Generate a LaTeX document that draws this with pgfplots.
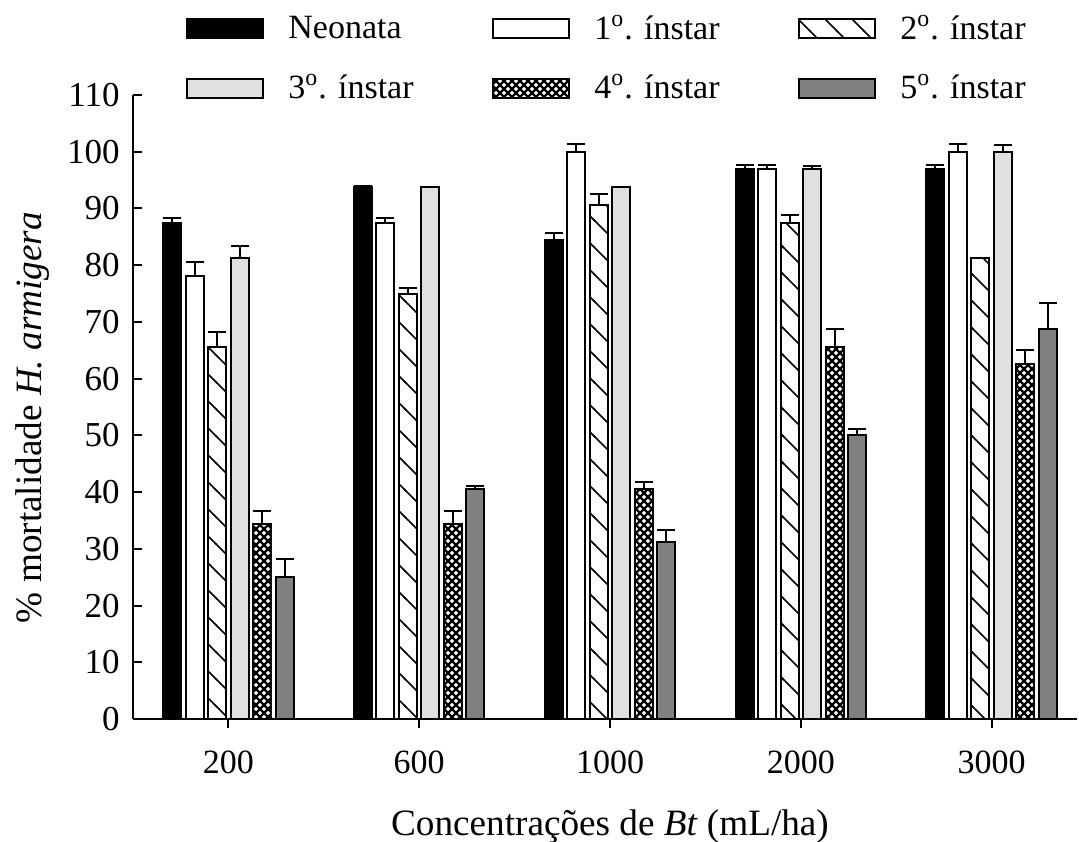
\documentclass[border=0pt]{standalone}
\usepackage{fontspec}
\setmainfont{Liberation Serif}
\usepackage{pgfplots}
\pgfplotsset{compat=1.18}
\usetikzlibrary{patterns}
\pgfdeclarepatternformonly{dcross}{\pgfqpoint{-1pt}{-1pt}}{\pgfqpoint{5pt}{5pt}}{\pgfqpoint{4pt}{4pt}}{%
  \pgfsetlinewidth{1.1pt}%
  \pgfpathmoveto{\pgfqpoint{-0.5pt}{-0.5pt}}\pgfpathlineto{\pgfqpoint{4.5pt}{4.5pt}}%
  \pgfpathmoveto{\pgfqpoint{-0.5pt}{4.5pt}}\pgfpathlineto{\pgfqpoint{4.5pt}{-0.5pt}}%
  \pgfusepath{stroke}}
\pgfdeclarepatternformonly{bighatch}{\pgfqpoint{-1pt}{-1pt}}{\pgfqpoint{14.5pt}{14.5pt}}{\pgfqpoint{13.5pt}{13.5pt}}{%
  \pgfsetlinewidth{0.8pt}%
  \pgfpathmoveto{\pgfqpoint{-0.5pt}{14pt}}\pgfpathlineto{\pgfqpoint{14pt}{-0.5pt}}%
  \pgfusepath{stroke}}
\definecolor{lgray}{RGB}{224,224,224}
\definecolor{dgray}{RGB}{128,128,128}
\newcommand{\fs}{\fontsize{17}{20}\selectfont}
\newcommand{\fy}{\fontsize{17.5}{20}\selectfont}
\newcommand{\fl}{\fontsize{18.6}{22}\selectfont}
\begin{document}
\begin{tikzpicture}
\begin{axis}[
  name=ax,
  scale only axis, width=472pt, height=312pt,
  ybar=2.25pt, bar width=9pt,
  xmin=-0.5, xmax=4.447, ymin=0, ymax=110,
  axis x line=bottom, axis y line=left,
  axis line style={-, line width=1pt, black},
  xtick={0,1,2,3,4}, xticklabels={200,600,1000,2000,3000},
  ytick={0,10,...,110},
  xtick align=outside, ytick align=inside,
  major tick length=4.5pt,
  every tick/.style={black, line width=1pt},
  /pgf/number format/assume math mode=true,
  xticklabel style={font=\fs, yshift=-7.95pt},
  yticklabel style={font=\fy, xshift=-3.2pt},
  label style={font=\fl},
  xlabel={Concentrações de \textit{Bt} (mL/ha)},
  xlabel style={at={(axis description cs:0.5053,0)}, anchor=north, inner sep=0pt, yshift=-45pt},
  ylabel={\% mortalidade \textit{H. armigera}},
  ylabel style={at={(axis description cs:-0.0814,0.483)}, anchor=south},
  legend columns=3,
  legend cell align=left,
  legend style={at={(axis description cs:0.0561,1.1474)}, anchor=north west,
    draw=none, fill=none, inner xsep=0pt, inner ysep=6pt, column sep=12pt, row sep=16.3pt,
    font=\fs, nodes={inner sep=0pt, text width=90pt, align=left}},
  legend image code/.code={\draw[#1] (0pt,-4.75pt) rectangle (38pt,4.75pt);},
  error bars/y dir=plus, error bars/y explicit, error bars/error mark=|,
  error bars/error mark options={black, mark size=4.5pt, line width=1pt, solid},
  error bars/error bar style={black, line width=1pt, solid},
  every axis plot/.append style={draw=black, line width=1pt},
]
\addplot[fill=black] coordinates {
  (0,87.5) +- (0,0.8)
  (1,93.75) +- (0,0.2)
  (2,84.4) +- (0,1.3)
  (3,96.9) +- (0,0.8)
  (4,96.9) +- (0,0.8)};
\addlegendentry{Neonata}
\addplot[fill=white] coordinates {
  (0,78.1) +- (0,2.5)
  (1,87.5) +- (0,0.9)
  (2,100) +- (0,1.3)
  (3,96.9) +- (0,0.8)
  (4,100) +- (0,1.3)};
\addlegendentry{1\textsuperscript{o}.\ ínstar}
\addplot[pattern=bighatch, pattern color=black] coordinates {
  (0,65.6) +- (0,2.6)
  (1,75) +- (0,0.9)
  (2,90.6) +- (0,1.9)
  (3,87.5) +- (0,1.3)
  (4,81.25) +- (0,0)};
\addlegendentry{2\textsuperscript{o}.\ ínstar}
\addplot[fill=lgray] coordinates {
  (0,81.25) +- (0,2.1)
  (1,93.75) +- (0,0)
  (2,93.75) +- (0,0)
  (3,96.9) +- (0,0.6)
  (4,100) +- (0,1.2)};
\addlegendentry{3\textsuperscript{o}.\ ínstar}
\addplot[pattern=dcross, pattern color=black] coordinates {
  (0,34.4) +- (0,2.3)
  (1,34.4) +- (0,2.3)
  (2,40.6) +- (0,1.25)
  (3,65.6) +- (0,3.2)
  (4,62.5) +- (0,2.6)};
\addlegendentry{4\textsuperscript{o}.\ ínstar}
\addplot[fill=dgray] coordinates {
  (0,25) +- (0,3.2)
  (1,40.6) +- (0,0.5)
  (2,31.25) +- (0,2.1)
  (3,50) +- (0,1.2)
  (4,68.75) +- (0,4.5)};
\addlegendentry{5\textsuperscript{o}.\ ínstar}
\end{axis}
\pgfresetboundingbox
\path ([shift={(-66.5pt,-61pt)}]ax.south west) rectangle ([shift={(473pt,359.5pt)}]ax.south west);
\end{tikzpicture}
\end{document}
